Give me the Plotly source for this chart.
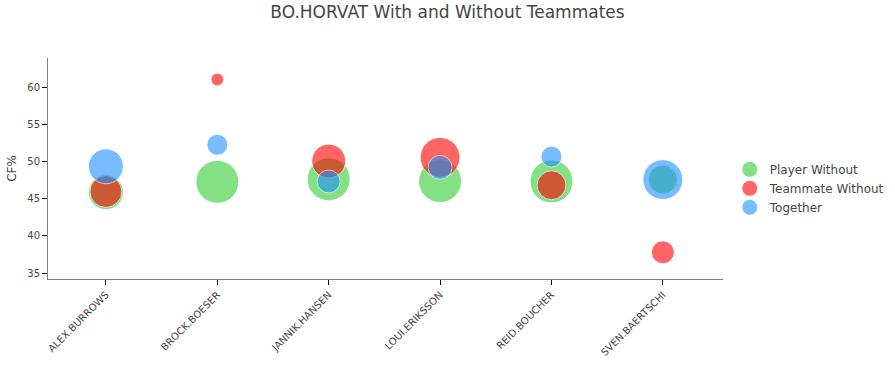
import plotly.graph_objects as go

players = ["ALEX.BURROWS", "BROCK.BOESER", "JANNIK.HANSEN",
           "LOUI.ERIKSSON", "REID.BOUCHER", "SVEN.BAERTSCHI"]

player_without_cf = [45.9, 47.3, 47.65, 47.4, 47.35, 47.6]
player_without_size = [35, 43, 43, 43, 43, 29]

teammate_without_cf = [46.0, 61.1, 50.1, 50.6, 46.85, 37.8]
teammate_without_size = [32, 13, 34, 40, 29, 23]

together_cf = [49.4, 52.3, 47.35, 49.25, 50.7, 47.6]
together_size = [35, 21, 23, 24, 21, 40]

title_text = "BO.HORVAT With and Without Teammates"
y_title = "CF%"

FONT = "Verdana, DejaVu Sans, sans-serif"

fig = go.Figure()
series = [
    ("Player Without", player_without_cf, player_without_size, "limegreen"),
    ("Teammate Without", teammate_without_cf, teammate_without_size, "red"),
    ("Together", together_cf, together_size, "dodgerblue"),
]
for name, ys, sizes, color in series:
    fig.add_trace(go.Scatter(
        x=players, y=ys, mode="markers", name=name,
        marker=dict(size=sizes, sizemode="diameter", sizeref=1,
                    color=color, opacity=0.6,
                    line=dict(width=1, color="white")),
    ))

fig.update_layout(
    width=895, height=368,
    paper_bgcolor="white", plot_bgcolor="white",
    font=dict(family=FONT, color="#444", size=12),
    title=dict(text=title_text, x=0.5, xanchor="center",
               y=1 - 12 / 368, yanchor="middle", yref="container",
               font=dict(size=17, family=FONT, color="#444")),
    margin=dict(l=48, r=172, t=58, b=89, autoexpand=False),
    showlegend=True,
    legend=dict(x=1.01, xanchor="left", y=0.562, yanchor="top",
                font=dict(size=12, family=FONT, color="#444"),
                bgcolor="rgba(0,0,0,0)"),
    xaxis=dict(type="category", range=[-0.52, 5.54],
               showline=True, linecolor="#808080", linewidth=1,
               showgrid=False, zeroline=False,
               ticks="outside", ticklen=5, tickcolor="#000",
               tickangle=-45, tickfont=dict(size=10, family=FONT, color="#444"),
               automargin=False),
    yaxis=dict(range=[34.2, 64.0], tickvals=[35, 40, 45, 50, 55, 60],
               showline=True, linecolor="#808080", linewidth=1,
               showgrid=False, zeroline=False,
               ticks="outside", ticklen=5, tickcolor="#000",
               tickfont=dict(size=10, family=FONT, color="#444"),
               title=dict(text=y_title, font=dict(size=12, family=FONT, color="#444"),
                          standoff=8),
               automargin=False),
)

fig.write_html("out.html",
               config={"displayModeBar": False},
               post_script="document.body.style.margin='0px';")
